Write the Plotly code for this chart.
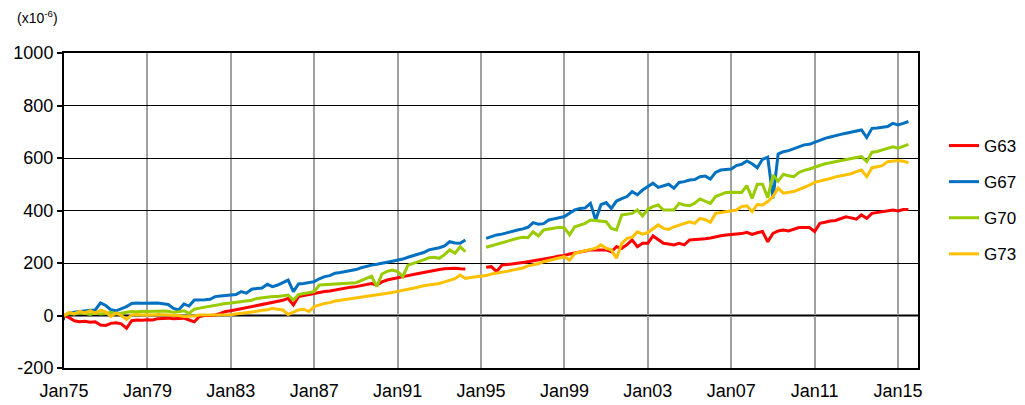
import plotly.graph_objects as go

# Quarterly observation dates, Jan 1975 .. Jul 2015
dates = [f"{y}-{m:02d}-01" for y in range(1975, 2016) for m in (1, 4, 7, 10)][:163]

N = None
# Cumulative change, units of 1e-6 (4 values per year)
g63 = [
    0, -8, -20, -24,  -22, -26, -24, -36,  -38, -30, -28, -32,  -49, -20, -17, -18,
    -16, -17, -12, -11,  -10, -12, -11, -10,  -17, -24, -4, 0,  0, 2, 8, 15,
    18, 22, 25, 28,  32, 38, 42, 46,  50, 53, 58, 65,  40, 72, 76, 80,
    84, 88, 91, 93,  97, 100, 104, 108,  110, 114, 118, 122,  116, 128, 135, 140,
    144, 148, 152, 156,  160, 164, 168, 173,  175, 178, 180, 180,  178, 177, N, N,
    N, 184, 186, 167,  192, 194, 196, 199,  202, 205, 208, 212,  215, 218, 222, 227,
    229, 234, 237, 242,  246, 250, 250, 250,  250, 243, 262, 256,  270, 288, 262, 275,
    275, 303, 288, 275,  272, 269, 275, 269,  288, 289, 290, 292,  295, 300, 304, 307,
    308, 309, 312, 317,  309, 315, 320, 281,  313, 322, 326, 322,  328, 335, 335, 335,
    320, 351, 355, 360,  362, 368, 376, 372,  367, 383, 370, 389,  392, 396, 400, 402,
    398, 404, 404,
]
g67 = [
    0, 8, 12, 15,  18, 20, 21, 48,  38, 22, 18, 25,  34, 46, 48, 47,
    47, 46, 48, 45,  42, 27, 21, 44,  36, 59, 59, 60,  62, 72, 74, 77,
    78, 80, 91, 85,  100, 103, 105, 119,  110, 116, 125, 135,  91, 120, 122, 126,
    129, 140, 148, 152,  161, 164, 168, 171,  175, 182, 188, 192,  195, 198, 203, 207,
    211, 215, 222, 228,  235, 240, 250, 253,  258, 265, 281, 276,  275, 288, N, N,
    N, 294, 300, 307,  310, 316, 320, 326,  330, 336, 354, 348,  350, 364, 368, 372,
    377, 390, 402, 408,  410, 427, 364, 422,  430, 408, 436, 445,  453, 472, 460, 478,
    490, 504, 488, 495,  500, 485, 507, 510,  516, 518, 529, 531,  520, 545, 554, 556,
    558, 571, 576, 589,  578, 563, 595, 603,  446, 615, 624, 628,  636, 645, 650, 652,
    660, 668, 675, 680,  686, 690, 694, 698,  703, 707, 678, 713,  714, 716, 720, 732,
    726, 732, 739,
]
g70 = [
    0, 8, 6, 10,  8, 4, 10, 6,  8, 12, 6, 10,  12, 15, 14, 16,
    15, 16, 15, 17,  16, 12, 14, 18,  8, 24, 28, 32,  35, 38, 42, 46,
    48, 50, 52, 54,  58, 65, 68, 70,  72, 72, 74, 78,  59, 80, 84, 88,
    91, 116, 117, 119,  119, 120, 121, 122,  125, 133, 141, 150,  110, 158, 168, 173,
    167, 148, 192, 198,  205, 212, 220, 222,  218, 232, 250, 237,  262, 243, N, N,
    N, 260, 266, 272,  276, 282, 288, 294,  298, 296, 319, 303,  326, 330, 333, 336,
    334, 307, 338, 345,  351, 364, 361, 358,  357, 332, 326, 383,  386, 389, 402, 379,
    405, 415, 421, 402,  402, 402, 427, 421,  418, 428, 444, 436,  427, 453, 462, 469,
    470, 469, 469, 495,  446, 500, 500, 449,  535, 512, 538, 532,  529, 545, 553, 558,
    565, 573, 578, 582,  586, 590, 596, 599,  602, 605, 586, 622,  625, 631, 637, 643,
    637, 645, 652,
]
g73 = [
    0, 12, 6, 16,  10, 18, 8, 20,  14, -4, 10, 0,  -15, 2, 4, 2,
    3, 2, 4, 3,  2, 3, 0, -4,  -4, -2, 2, 2,  2, 3, 2, 3,
    3, 6, 8, 10,  12, 16, 20, 22,  27, 25, 21, 4,  12, 21, 24, 15,
    34, 40, 46, 49,  55, 58, 61, 64,  66, 70, 73, 76,  78, 80, 84, 88,
    92, 97, 100, 104,  110, 113, 116, 119,  122, 128, 135, 140,  154, 141, 145, 148,
    150, 152, 158, 161,  164, 168, 173, 177,  181, 189, 192, 197,  205, 210, 214, 220,
    224, 211, 237, 242,  248, 252, 256, 269,  256, 250, 218, 275,  294, 298, 319, 310,
    316, 332, 345, 332,  328, 338, 345, 350,  357, 351, 370, 365,  355, 389, 392, 396,
    398, 402, 415, 418,  396, 423, 421, 434,  453, 485, 466, 470,  472, 480, 487, 497,
    507, 511, 516, 522,  528, 532, 535, 540,  548, 554, 529, 563,  567, 571, 586, 588,
    590, 588, 582,
]

series = [("G63", g63, "#FF0000"), ("G67", g67, "#0070C0"),
          ("G70", g70, "#99CC00"), ("G73", g73, "#FFC000")]

tick_dates = [f"{y}-01-01" for y in range(1975, 2016, 4)]
tick_text = [f"Jan{str(y)[2:]}" for y in range(1975, 2016, 4)]
y_ticks = [-200, 0, 200, 400, 600, 800, 1000]
y_tick_text = [str(v) for v in y_ticks]

FONT = "Liberation Sans, Arial, sans-serif"

fig = go.Figure()
for name, vals, col in series:
    fig.add_trace(go.Scatter(
        x=dates, y=vals, name=name, mode="lines", legendgroup=name,
        line=dict(color=col, width=3), connectgaps=False,
    ))

# horizontal axis drawn through zero, with its tick marks
fig.add_shape(type="line", xref="paper", yref="y", x0=0, x1=1, y0=0, y1=0,
              line=dict(color="black", width=2), layer="below")
for d in tick_dates:
    fig.add_shape(type="line", xref="x", yref="y", x0=d, x1=d, y0=0, y1=-18,
                  line=dict(color="black", width=1.5), layer="below")

fig.add_annotation(text="(x10<sup>-6</sup>)", xref="paper", yref="paper",
                   x=(15 - 64) / 854, y=(368 - 17) / 315, xanchor="left",
                   yanchor="middle", showarrow=False,
                   font=dict(family=FONT, size=14, color="black"))

fig.update_layout(
    width=1025, height=405,
    margin=dict(l=64, r=107, t=53, b=37, autoexpand=False),
    paper_bgcolor="white", plot_bgcolor="white",
    font=dict(family=FONT, size=18, color="black"),
    showlegend=True,
    legend=dict(x=(944 - 64) / 854, y=(368 - 128) / 315, xanchor="left", yanchor="top",
                font=dict(size=17), tracegroupgap=11, itemwidth=30,
                bgcolor="rgba(0,0,0,0)"),
    xaxis=dict(
        type="date", range=["1975-01-01", "2015-12-16"], automargin=False,
        tickvals=tick_dates, ticktext=tick_text, ticks="", ticklabelstandoff=6,
        showgrid=True, gridcolor="#A0A0A0", gridwidth=1.5,
        showline=True, linecolor="black", linewidth=1.5, mirror=True,
        zeroline=False,
    ),
    yaxis=dict(
        range=[-200, 1000], tickvals=y_ticks, ticktext=y_tick_text,
        ticks="outside", ticklen=5, automargin=False,
        tickcolor="black", tickwidth=1.5,
        showgrid=True, gridcolor="black", gridwidth=1,
        showline=True, linecolor="black", linewidth=2, mirror=True,
        zeroline=False,
    ),
)

fig.write_html("out.html")
